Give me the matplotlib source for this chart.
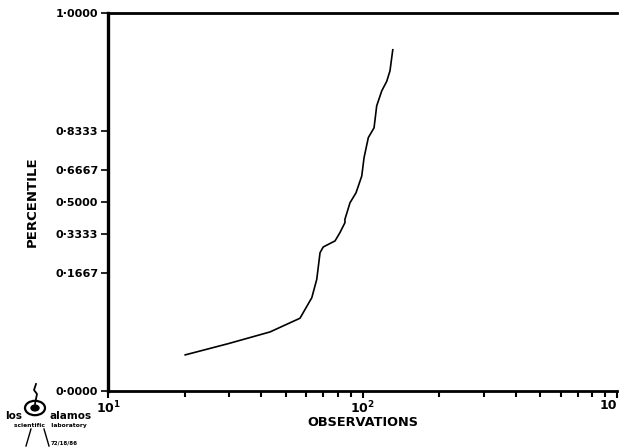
from statistics import NormalDist

import numpy as np
import matplotlib.pyplot as plt
from matplotlib.lines import Line2D
from matplotlib.ticker import FixedLocator, LogLocator, NullFormatter

# empirical distribution of observations (normal probability paper)
observations = [20.1, 29.7, 43.3, 56.8, 63.2, 66.1, 68.1, 70.1, 78.0, 81.5,
                85.3, 85.3, 89.3, 94.3, 99.3, 101.4, 105.4, 111.0, 113.7,
                119.0, 124.5, 128.2, 131.5]
percentiles = [0.0186, 0.0268, 0.0383, 0.0566, 0.0961, 0.146, 0.245, 0.270,
               0.298, 0.338, 0.389, 0.407, 0.496, 0.550, 0.638, 0.727, 0.810,
               0.844, 0.905, 0.935, 0.950, 0.963, 0.981]

y_ticks = [0.0, 1 / 6, 2 / 6, 3 / 6, 4 / 6, 5 / 6, 1.0]
y_labels = ["0·0000", "0·1667", "0·3333", "0·5000", "0·6667", "0·8333", "1·0000"]
x_ticks = [10, 100, 1000]
x_labels = ["10$^{\\mathsf{1}}$", "10$^{\\mathsf{2}}$", "10"]

nd = NormalDist()
P_LO, P_HI = 0.005, 0.995


def prob_forward(p):
    p = np.clip(np.asarray(p, dtype=float), P_LO, P_HI)
    return np.vectorize(nd.inv_cdf, otypes=[float])(p)


def prob_inverse(z):
    return np.vectorize(nd.cdf, otypes=[float])(np.asarray(z, dtype=float))


plt.rcParams["font.family"] = "DejaVu Sans"
plt.rcParams["font.weight"] = "bold"
plt.rcParams["mathtext.default"] = "bf"

fig = plt.figure(figsize=(6.24, 4.48), dpi=100)
ax = fig.add_axes([0.1731, 0.1272, 0.8157, 0.8438])

ax.plot(observations, percentiles, color="black", lw=1.2)

ax.set_xscale("log")
ax.set_yscale("function", functions=(prob_forward, prob_inverse))
ax.set_xlim(10, 1000)
ax.set_ylim(0, 1)

ax.xaxis.set_major_locator(FixedLocator(x_ticks))
ax.set_xticklabels(x_labels, fontsize=9, fontweight="bold")
ax.get_xticklabels()[-1].set_horizontalalignment("right")
ax.xaxis.set_minor_locator(LogLocator(base=10, subs=np.arange(2, 10)))
ax.xaxis.set_minor_formatter(NullFormatter())
ax.yaxis.set_major_locator(FixedLocator(y_ticks))
ax.yaxis.set_minor_locator(FixedLocator([]))
ax.set_yticklabels(y_labels, fontsize=8, fontweight="bold")

ax.tick_params(axis="x", which="major", direction="out", length=5, width=1.5, pad=1)
ax.tick_params(axis="x", which="minor", direction="out", length=4, width=1.5)
ax.tick_params(axis="y", direction="out", length=5, width=1.2, pad=2)

for side in ["left", "bottom", "top"]:
    ax.spines[side].set_linewidth(2.0)
ax.spines["left"].set_linewidth(2.4)
ax.spines["right"].set_visible(False)

ax.set_xlabel("OBSERVATIONS", fontsize=9.3, fontweight="bold", labelpad=0)
ax.set_ylabel("PERCENTILE", fontsize=9.5, fontweight="bold", labelpad=12)

# lab logo in the lower left corner
fig.patches.append(plt.Circle((35 / 624, 1 - 408 / 448), 10 / 624, transform=fig.transFigure,
                              fill=False, lw=1.6, color="black"))
fig.patches.append(plt.Circle((35 / 624, 1 - 408 / 448), 4 / 624, transform=fig.transFigure,
                              fill=True, color="black"))
fig.add_artist(Line2D([36 / 624, 34 / 624, 37 / 624, 35 / 624],
                      [1 - 384 / 448, 1 - 390 / 448, 1 - 394 / 448, 1 - 404 / 448],
                      transform=fig.transFigure, color="black", lw=1.3))
fig.add_artist(Line2D([31 / 624, 26 / 624], [1 - 429 / 448, 1 - 446 / 448],
                      transform=fig.transFigure, color="black", lw=1.0))
fig.add_artist(Line2D([44 / 624, 49 / 624], [1 - 429 / 448, 1 - 446 / 448],
                      transform=fig.transFigure, color="black", lw=1.0))
fig.text(5 / 624, 1 - 416 / 448, "los", fontsize=7.5, fontweight="bold",
         ha="left", va="center")
fig.text(92 / 624, 1 - 416 / 448, "alamos", fontsize=7.5, fontweight="bold",
         ha="right", va="center")
fig.text(50 / 624, 1 - 425 / 448, "scientific   laboratory", fontsize=4.3,
         fontweight="bold", ha="center", va="center")
fig.text(51 / 624, 1 - 443 / 448, "72/18/86", fontsize=4, fontweight="bold",
         ha="left", va="center")

fig.savefig("out.png", dpi=100)
